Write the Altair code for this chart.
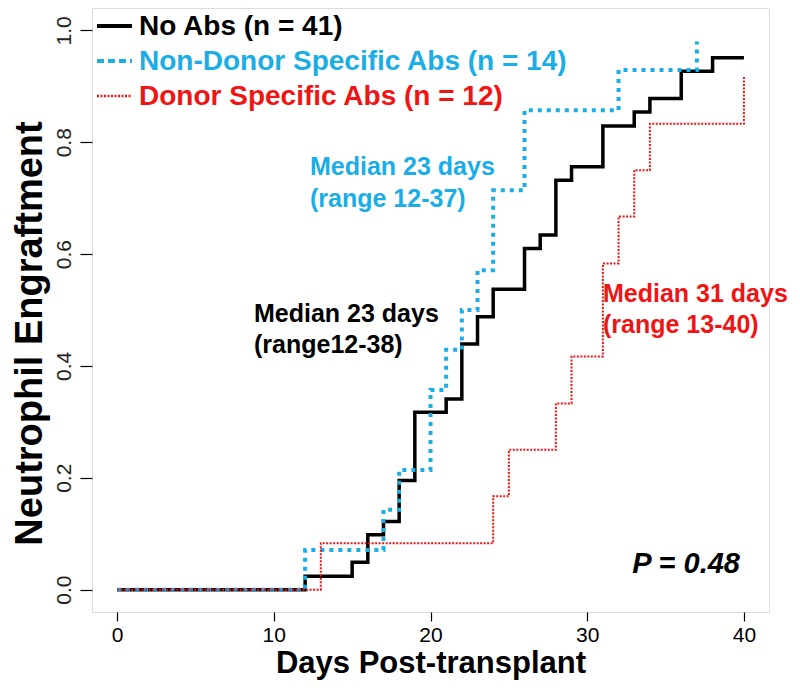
import altair as alt
import pandas as pd

# ---- data (cumulative incidence step curves) ----
no_abs_days = [0, 12, 15, 16, 17, 18, 19, 21, 22, 23, 24, 26, 27, 28, 29, 31, 33, 34, 36, 38, 40]
no_abs_vals = [0, 0.024, 0.049, 0.098, 0.122, 0.195, 0.317, 0.341, 0.439, 0.488, 0.537,
               0.610, 0.634, 0.732, 0.756, 0.829, 0.854, 0.878, 0.927, 0.951, 0.951]

ndsa_days = [0, 12, 17, 18, 20, 21, 22, 23, 24, 26, 32, 37]
ndsa_vals = [0, 0.071, 0.143, 0.214, 0.357, 0.429, 0.500, 0.571, 0.714, 0.857, 0.929, 0.980]

dsa_days = [0, 13, 24, 25, 28, 29, 31, 32, 33, 34, 40]
dsa_vals = [0, 0.083, 0.167, 0.250, 0.333, 0.417, 0.583, 0.667, 0.750, 0.833, 0.917]

series_names = ["No Abs (n = 41)", "Non-Donor Specific Abs (n = 14)", "Donor Specific Abs (n = 12)"]
series_colors = ["#000000", "#1AADE6", "#F01414"]

x_ticks = [0, 10, 20, 30, 40]
y_ticks = [0.0, 0.2, 0.4, 0.6, 0.8, 1.0]

ann_black = ["Median 23 days", "(range12-38)"]
ann_blue = ["Median 23 days", "(range 12-37)"]
ann_red = ["Median 31 days", "(range 13-40)"]
p_text = "P = 0.48"

FONT = "Liberation Sans"

df_black = pd.DataFrame({"day": no_abs_days, "p": no_abs_vals})
df_blue = pd.DataFrame({"day": ndsa_days, "p": ndsa_vals})
df_red = pd.DataFrame({"day": dsa_days, "p": dsa_vals})

xscale = alt.Scale(domain=[-1.6, 41.6], nice=False, zero=False)
yscale = alt.Scale(domain=[-0.04, 1.04], nice=False, zero=False)

xaxis = alt.Axis(values=x_ticks, domain=False, grid=False, tickSize=9, tickColor="black",
                 tickWidth=1.2, labelFontSize=21, labelFont=FONT, labelColor="black",
                 labelPadding=3, title="Days Post-transplant", titleFont=FONT,
                 titleFontSize=31, titleFontWeight="bold", titleColor="black",
                 titleBaseline="alphabetic", titleY=60)
yaxis = alt.Axis(values=y_ticks, format=".1f", domain=False, grid=False, tickSize=12,
                 tickColor="black", tickWidth=1.2, labelFontSize=21, labelFont=FONT,
                 labelColor="#222222", labelAngle=270, labelAlign="center",
                 labelBaseline="bottom", labelPadding=6, title="Neutrophil Engraftment",
                 titleFont=FONT, titleFontSize=38, titleFontWeight="bold", titleColor="black",
                 titlePadding=4, titleY=325)

black = alt.Chart(df_black).mark_line(interpolate="step-after", color=series_colors[0],
                                      strokeWidth=3.5).encode(
    x=alt.X("day:Q", scale=xscale, axis=xaxis),
    y=alt.Y("p:Q", scale=yscale, axis=yaxis))
blue = alt.Chart(df_blue).mark_line(interpolate="step-after", color=series_colors[1],
                                    strokeWidth=4, strokeDash=[4, 5]).encode(
    x=alt.X("day:Q", scale=xscale), y=alt.Y("p:Q", scale=yscale))
red = alt.Chart(df_red).mark_line(interpolate="step-after", color=series_colors[2],
                                  strokeWidth=2, strokeDash=[2, 1.5]).encode(
    x=alt.X("day:Q", scale=xscale), y=alt.Y("p:Q", scale=yscale))

layers = [black, blue, red]

# legend (top-left inside the box)
leg_rows = [18, 53, 88]
leg_dash = [None, [7, 4], [2, 1.5]]
leg_w = [4, 4, 2.5]
for i in range(3):
    kw = dict(color=series_colors[i], strokeWidth=leg_w[i])
    if leg_dash[i]:
        kw["strokeDash"] = leg_dash[i]
    layers.append(alt.Chart(pd.DataFrame({"a": [0]})).mark_rule(**kw).encode(
        x=alt.value(5), x2=alt.value(40), y=alt.value(leg_rows[i])))
    layers.append(alt.Chart(pd.DataFrame({"a": [0]})).mark_text(
        text=series_names[i], font=FONT, fontSize=28, fontWeight="bold",
        color=series_colors[i], align="left", baseline="middle").encode(
        x=alt.value(47), y=alt.value(leg_rows[i] + 1)))

def two_lines(lines, x, y0, color, gap=32):
    out = []
    for j, t in enumerate(lines):
        out.append(alt.Chart(pd.DataFrame({"a": [0]})).mark_text(
            text=t, font=FONT, fontSize=25, fontWeight="bold", color=color,
            align="left", baseline="alphabetic").encode(
            x=alt.value(x), y=alt.value(y0 + j * gap)))
    return out

layers += two_lines(ann_blue, 218, 167, series_colors[1])
layers += two_lines(ann_black, 162, 314, series_colors[0], gap=31)
layers += two_lines(ann_red, 511, 294, series_colors[2], gap=31)
layers.append(alt.Chart(pd.DataFrame({"a": [0]})).mark_text(
    text=p_text, font=FONT, fontSize=29, fontWeight="bold", fontStyle="italic",
    color="black", align="right", baseline="alphabetic").encode(
    x=alt.value(648), y=alt.value(565)))

chart = alt.layer(*layers).properties(
    width=677, height=604,
    padding={"left": 84, "top": 0, "right": 23, "bottom": 68},
    autosize=alt.AutoSizeParams(type="none"),
).configure_view(stroke="black", strokeWidth=1.5).configure(background="white")

chart.save("out.html", embed_options={"renderer": "svg", "actions": False})
